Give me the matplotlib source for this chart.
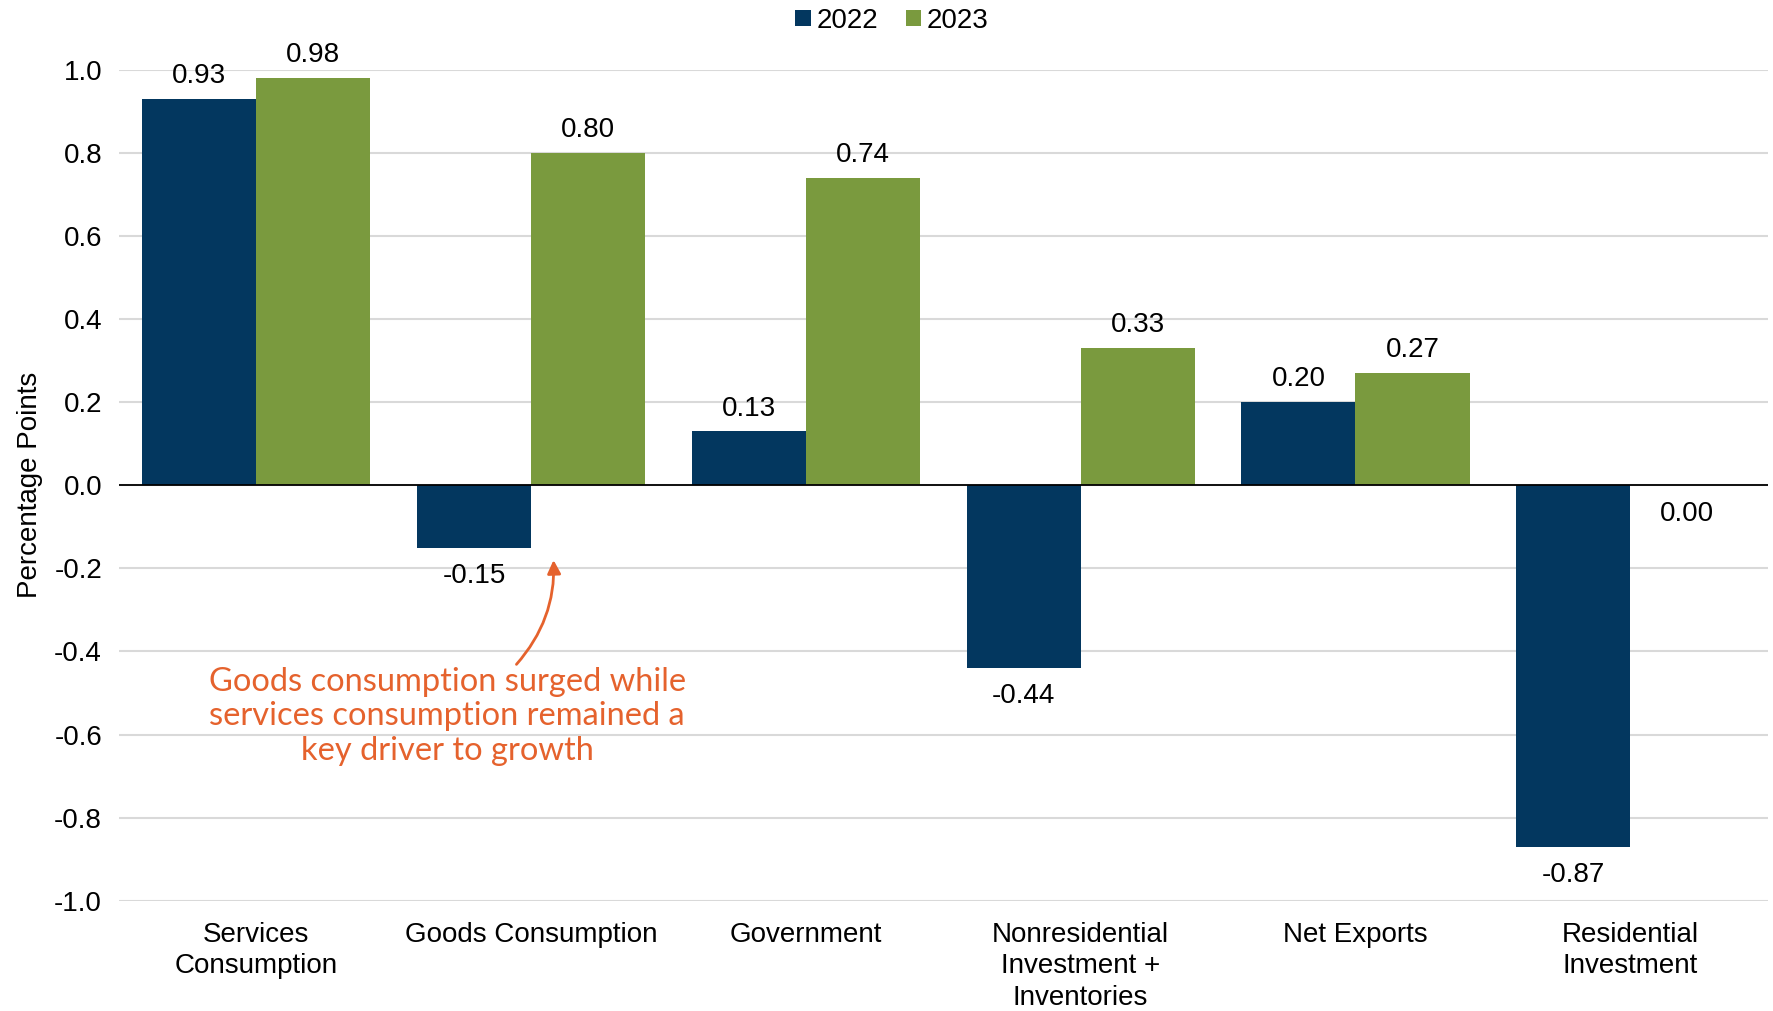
import matplotlib.pyplot as plt
import numpy as np

categories = ["Services\nConsumption", "Goods Consumption", "Government",
              "Nonresidential\nInvestment +\nInventories", "Net Exports",
              "Residential\nInvestment"]
vals_2022 = [0.93, -0.15, 0.13, -0.44, 0.20, -0.87]
vals_2023 = [0.98, 0.80, 0.74, 0.33, 0.27, 0.00]
yticks = [1.0, 0.8, 0.6, 0.4, 0.2, 0.0, -0.2, -0.4, -0.6, -0.8, -1.0]

navy = "#03375f"
green = "#7a9a3e"
orange = "#e5622d"

plt.rcParams["font.family"] = ["Liberation Sans", "DejaVu Sans"]

fig = plt.figure(figsize=(17.73, 10.11), dpi=100)
ax = fig.add_axes([0.067, 0.109, 0.93, 0.822])

x = np.arange(len(categories))
w = 0.415
b1 = ax.bar(x - w / 2, vals_2022, w, color=navy, label="2022", zorder=3)
b2 = ax.bar(x + w / 2, vals_2023, w, color=green, label="2023", zorder=3)

# value labels: above for positive bars, below for zero/negative
for bars, vals in ((b1, vals_2022), (b2, vals_2023)):
    for rect, v in zip(bars, vals):
        cx = rect.get_x() + rect.get_width() / 2
        if v > 0:
            ax.annotate(f"{v:.2f}", (cx, v), xytext=(0, 7), textcoords="offset points",
                        ha="center", va="bottom", fontsize=20)
        else:
            ax.annotate(f"{v:.2f}", (cx, v), xytext=(0, -11), textcoords="offset points",
                        ha="center", va="top", fontsize=20)

ax.set_xlim(-0.5, len(categories) - 0.5)
ax.set_ylim(-1.0, 1.0)
ax.set_yticks(yticks)
ax.set_yticklabels([f"{t:.1f}" for t in yticks], fontsize=20)
ax.set_xticks(x)
ax.set_xticklabels(categories, fontsize=20, linespacing=1.28)
ax.tick_params(length=0, pad=12)
ax.tick_params(axis="x", pad=15)

ax.yaxis.grid(True, color="#d9d9d9", linewidth=1.5, zorder=0)
ax.axhline(0, color="black", linewidth=1.3, zorder=4)
for s in ax.spines.values():
    s.set_visible(False)

ax.set_ylabel("Percentage Points", fontsize=20, labelpad=8)

ax.text(0.695, -0.556,
        "Goods consumption surged while\nservices consumption remained a\nkey driver to growth",
        ha="center", va="center", color=orange, fontsize=23.5, family="Lato",
        linespacing=1.18)
ax.annotate("", xy=(1.082, -0.18), xytext=(0.947, -0.431),
            arrowprops=dict(arrowstyle="-|>", color=orange, lw=2,
                            connectionstyle="arc3,rad=0.2",
                            shrinkA=0, shrinkB=0, mutation_scale=20))

fig.legend(loc="upper center", bbox_to_anchor=(0.503, 1.017), ncol=2, frameon=False,
           fontsize=20, handlelength=0.55, handleheight=0.55, handletextpad=0.2,
           columnspacing=1.0)

fig.savefig("out.png", dpi=100)
